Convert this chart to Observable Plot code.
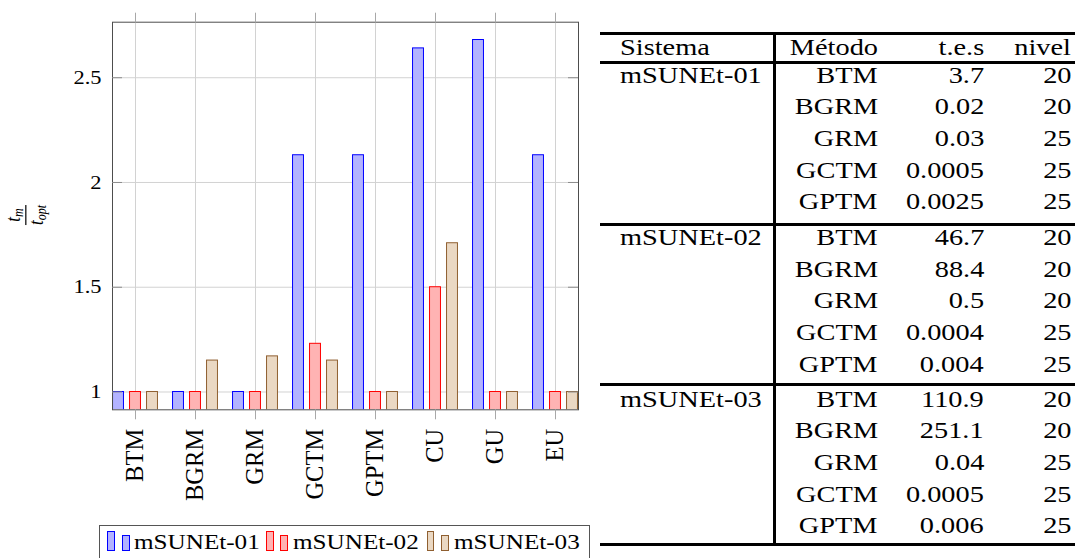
<!DOCTYPE html>
<html>
<head>
<meta charset="utf-8">
<script src="https://cdn.jsdelivr.net/npm/d3@7"></script>
<script src="https://cdn.jsdelivr.net/npm/@observablehq/plot@0.6"></script>
<style>
  html, body { margin: 0; padding: 0; background: #fff; }
  #page { position: relative; width: 1075px; height: 558px; overflow: hidden; font-family: "Liberation Serif", serif; color: #000; }
  #chart { position: absolute; left: 0; top: 0; }
  .abs { position: absolute; white-space: nowrap; }
  .rule { position: absolute; background: #000; }
  .ylab { position: absolute; left: 25.5px; top: 215px; transform: translate(-50%, -50%) rotate(-90deg) scaleY(1.2);
          display: flex; flex-direction: column; align-items: center; font-style: italic; font-size: 17px; line-height: 0.95; }
  .ylab sub { font-size: 12px; vertical-align: -0.2em; line-height: 0; }
  .ylab .bar { align-self: stretch; border-top: 1.4px solid #000; margin: 1px 0 1px 0; }
  .legend { position: absolute; left: 98.5px; top: 525px; width: 491px; height: 40px; border: 1.3px solid #555; box-sizing: border-box; }
  .sw { position: absolute; box-sizing: border-box; border: 1.2px solid; }
</style>
</head>
<body>
<div id="page">
  <div id="chart"></div>
  <div class="ylab"><span>t<sub>m</sub></span><span class="bar"></span><span>t<sub>opt</sub></span></div>
</div>
<script>
// Bar chart data: ratio t_m / t_opt for each method and system
const methods = ["BTM", "BGRM", "GRM", "GCTM", "GPTM", "CU", "GU", "EU"];
const series = ["mSUNEt-01", "mSUNEt-02", "mSUNEt-03"];
const ratio01 = [1, 1, 1, 2.13, 2.13, 2.64, 2.68, 2.13];
const ratio02 = [1, 1, 1, 1.23, 1, 1.5, 1, 1];
const ratio03 = [1, 1.15, 1.17, 1.15, 1, 1.71, 1, 1];
const yTicks = [1, 1.5, 2, 2.5];

// Table data
const headers = ["Sistema", "Método", "t.e.s", "nivel"];
const sistemas = ["mSUNEt-01", "mSUNEt-02", "mSUNEt-03"];
const tableMethods = ["BTM", "BGRM", "GRM", "GCTM", "GPTM"];
const tes01 = ["3.7", "0.02", "0.03", "0.0005", "0.0025"];
const tes02 = ["46.7", "88.4", "0.5", "0.0004", "0.004"];
const tes03 = ["110.9", "251.1", "0.04", "0.0005", "0.006"];
const nivel01 = [20, 20, 25, 25, 25];
const nivel02 = [20, 20, 20, 25, 25];
const nivel03 = [20, 20, 25, 25, 25];

const fills = ["#b3b3ff", "#ffb3b3", "#ead8c3"];
const strokes = ["#0000ff", "#ff0000", "#8f5f30"];

// ---- chart ----
const ratios = [ratio01, ratio02, ratio03];
const rows = methods.flatMap((m, i) => ratios.map((arr, s) => ({method: m, series: series[s], value: arr[i]})));

const W = 600, H = 520, mL = 112, mR = 22, mT = 21.7, mB = 110.7;
const frameW = W - mL - mR;
const padIn = 0.3;
const step = frameW / (methods.length - padIn);
const bandW = step * (1 - padIn);
const barW = 11.3;
const offsets = [-17, 0, 17];

const bars = series.map((s, k) => Plot.barY(rows.filter(d => d.series === s), {
  x: "method", y1: 0, y2: "value",
  fill: fills[k], stroke: strokes[k], strokeWidth: 1,
  insetLeft: (bandW - barW) / 2 + offsets[k],
  insetRight: (bandW - barW) / 2 - offsets[k],
  clip: true
}));

const chart = Plot.plot({
  width: W, height: H,
  marginLeft: mL, marginRight: mR, marginTop: mT, marginBottom: mB,
  style: {fontFamily: "Liberation Serif", fontSize: "19.5px", background: "transparent", color: "#000"},
  x: {type: "band", domain: methods, paddingInner: padIn, paddingOuter: 0, align: 0.5},
  y: {domain: [0.915, 2.765]},
  marks: [
    Plot.gridX({stroke: "#d2d2d2", strokeOpacity: 1}),
    Plot.gridY(yTicks, {stroke: "#d2d2d2", strokeOpacity: 1}),
    ...bars,
    Plot.frame({stroke: "#4d4d4d"}),
    Plot.ruleY(yTicks, {insetRight: frameW - 10, stroke: "#8c8c8c"}),
    Plot.ruleY(yTicks, {insetLeft: frameW - 10, stroke: "#8c8c8c"}),
    Plot.axisX({anchor: "bottom", tickSize: 10, tickPadding: 9, tickRotate: -90, fontSize: 24.5, stroke: "#a8a8a8", label: null}),
    Plot.axisX({anchor: "top", tickSize: 10, tickFormat: () => "", stroke: "#a8a8a8", label: null}),
    Plot.axisY(yTicks, {anchor: "left", tickSize: 0, tickPadding: 11, fontSize: 19.5, label: null, tickFormat: d => String(d)})
  ]
});
// widen the y tick labels horizontally, keeping their right edge in place
d3.select(chart).selectAll('g[aria-label="y-axis tick label"] text').each(function () {
  const t = this.getAttribute("transform") || "";
  this.setAttribute("transform", t + " scale(1.15,1)");
});
document.getElementById("chart").appendChild(chart);

// ---- helpers for absolutely placed text ----
const page = document.getElementById("page");
function addText(txt, opts) {
  const f = opts.size;
  const el = document.createElement("div");
  el.className = "abs";
  el.textContent = txt;
  el.style.fontSize = f + "px";
  el.style.lineHeight = f + "px";
  el.style.top = (opts.cy - 0.5065 * f) + "px";
  if (opts.left != null) { el.style.left = opts.left + "px"; el.style.transformOrigin = "left center"; }
  if (opts.right != null) { el.style.right = (1075 - opts.right) + "px"; el.style.transformOrigin = "right center"; }
  el.style.transform = `scaleX(${opts.sx || 1})`;
  page.appendChild(el);
  return el;
}
function addRule(x, y, w, h) {
  const el = document.createElement("div");
  el.className = "rule";
  Object.assign(el.style, {left: x + "px", top: y + "px", width: w + "px", height: h + "px"});
  page.appendChild(el);
}

// ---- legend ----
const legend = document.createElement("div");
legend.className = "legend";
page.appendChild(legend);
const legendX = [107.3, 266, 426.7];
series.forEach((s, k) => {
  const x0 = legendX[k];
  [[0, 531, 7.8, 19.7], [14.4, 535, 8, 15.7]].forEach(([dx, top, w, h]) => {
    const sw = document.createElement("div");
    sw.className = "sw";
    Object.assign(sw.style, {left: (x0 + dx) + "px", top: top + "px", width: w + "px", height: h + "px",
      background: fills[k], borderColor: strokes[k]});
    page.appendChild(sw);
  });
  addText(s, {size: 21.5, cy: 542.5, left: x0 + 27, sx: 1.17});
});

// ---- table ----
const T = 22.5, SX = 1.26;
const colLeft = 619.5;
const colRight = [878, 984, 1071];
addRule(600, 32, 475, 2.6);
addRule(600, 61.2, 475, 2.6);
addRule(600, 223.2, 475, 2.4);
addRule(600, 383.2, 475, 2.4);
addRule(600, 543, 475, 2.8);
addRule(772.5, 32, 3, 513.8);

addText(headers[0], {size: T, cy: 48.5, left: colLeft, sx: SX});
headers.slice(1).forEach((h, j) => addText(h, {size: T, cy: 48.5, right: colRight[j], sx: SX}));

const tesAll = [tes01, tes02, tes03];
const nivelAll = [nivel01, nivel02, nivel03];
const groupStart = [76, 238.3, 400];
const rowStep = 31.65;
sistemas.forEach((sys, g) => {
  addText(sys, {size: T, cy: groupStart[g], left: colLeft, sx: SX});
  tableMethods.forEach((m, r) => {
    const cy = groupStart[g] + r * rowStep;
    addText(m, {size: T, cy, right: colRight[0], sx: SX});
    addText(tesAll[g][r], {size: T, cy, right: colRight[1], sx: SX});
    addText(String(nivelAll[g][r]), {size: T, cy, right: colRight[2], sx: SX});
  });
});
</script>
</body>
</html>
